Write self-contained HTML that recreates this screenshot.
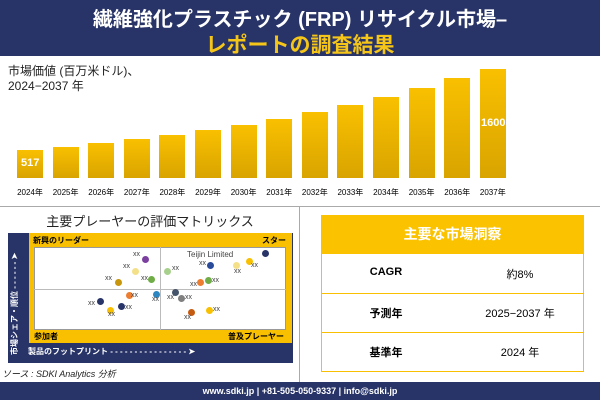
<!DOCTYPE html><html><head><meta charset="utf-8"><style>
*{margin:0;padding:0;box-sizing:border-box}
body{width:600px;height:400px;position:relative;background:#fff;font-family:"Liberation Sans","Noto Sans CJK JP",sans-serif;overflow:hidden}
.a{position:absolute}
.bar{position:absolute;width:26px;bottom:222px;background:linear-gradient(#f9c000,#d9a400)}
.yr{position:absolute;top:187px;font-size:8px;width:36px;text-align:center}
.d{position:absolute;width:7px;height:7px;border-radius:50%}
.x{position:absolute;font-size:7px;color:#444}
</style></head><body>
<div class="a" style="left:0;top:0;width:600px;height:56px;background:#283468"></div>
<div class="a" style="left:0;top:3px;width:600px;text-align:center;color:#fff;font-size:20px;font-weight:bold">繊維強化プラスチック (FRP) リサイクル市場–</div>
<div class="a" style="left:0;top:29px;width:600px;text-align:center;color:#f5c518;font-size:21px;font-weight:bold">レポートの調査結果</div>
<div class="a" style="left:8px;top:64px;font-size:12px;line-height:15px;color:#222">市場価値 (百万米ドル)、<br>2024−2037 年</div>
<div id="bars"></div>
<script>
var t=[150,147,143,139,135,130,125,119,112,105,97,88,78,69];var h='';
for(var i=0;i<14;i++){var x=17+i*35.6;h+='<div class="bar" style="left:'+x+'px;top:'+t[i]+'px"></div><div class="yr" style="left:'+(x-5)+'px">'+(2024+i)+'年</div>';}
document.getElementById('bars').innerHTML=h;
</script>
<div class="a" style="left:21px;top:157px;color:#fff;font-size:11px;font-weight:bold">517</div>
<div class="a" style="left:481px;top:117px;color:#fff;font-size:11px;font-weight:bold">1600</div>
<div class="a" style="left:0;top:206px;width:600px;border-top:1px solid #aaa"></div>
<div class="a" style="left:299px;top:206px;height:176px;border-left:1px solid #aaa"></div>
<div class="a" style="left:0;top:211px;width:300px;text-align:center;font-size:13px;color:#222">主要プレーヤーの評価マトリックス</div>
<div class="a" style="left:8px;top:233px;width:285px;height:130px;background:#283468"></div>
<div class="a" style="left:29px;top:233px;width:263px;height:110px;background:#f8c000"></div>
<div class="a" style="left:34px;top:247px;width:252px;height:83px;background:#fff;border:1px solid #999"></div>
<div class="a" style="left:160px;top:247px;height:83px;border-left:1px solid #bbb"></div>
<div class="a" style="left:34px;top:289px;width:252px;border-top:1px solid #bbb"></div>
<div class="a" style="left:33px;top:235px;font-size:8px;font-weight:bold">新興のリーダー</div>
<div class="a" style="left:262px;top:235px;font-size:8px;font-weight:bold">スター</div>
<div class="a" style="left:34px;top:331px;font-size:8px;font-weight:bold">参加者</div>
<div class="a" style="left:228px;top:331px;font-size:8px;font-weight:bold">普及プレーヤー</div>
<div class="a" style="left:28px;top:346px;font-size:8px;color:#fff;font-weight:bold">製品のフットプリント - - - - - - - - - - - - - - - - ➤</div>
<div class="a" style="left:9px;top:355px;font-size:8px;color:#fff;transform:rotate(-90deg);transform-origin:left top;white-space:nowrap;font-weight:bold">市場シェア・順位 - - - - - - ➤</div>
<div class="a" style="left:187px;top:250px;font-size:8px;color:#444">Teijin Limited</div>
<div class="d" style="left:262px;top:250px;background:#283468"></div><div class="d" style="left:246px;top:258px;background:#f8c000"></div>
<div class="d" style="left:233px;top:262px;background:#f5e08a"></div><div class="d" style="left:207px;top:262px;background:#2a4a9a"></div>
<div class="d" style="left:142px;top:256px;background:#7b3fa0"></div><div class="d" style="left:132px;top:268px;background:#f5e08a"></div>
<div class="d" style="left:164px;top:268px;background:#a7d08c"></div><div class="d" style="left:148px;top:276px;background:#70ad47"></div>
<div class="d" style="left:115px;top:279px;background:#c8960c"></div>
<div class="d" style="left:197px;top:279px;background:#ed7d31"></div>
<div class="d" style="left:205px;top:277px;background:#70ad47"></div>
<div class="d" style="left:126px;top:292px;background:#ed7d31"></div><div class="d" style="left:153px;top:291px;background:#2e86c1"></div>
<div class="d" style="left:172px;top:289px;background:#44546a"></div><div class="d" style="left:178px;top:295px;background:#7f7f7f"></div>
<div class="d" style="left:97px;top:298px;background:#283468"></div><div class="d" style="left:118px;top:303px;background:#283468"></div>
<div class="d" style="left:107px;top:307px;background:#f8c000"></div><div class="d" style="left:188px;top:309px;background:#c55a11"></div>
<div class="d" style="left:206px;top:307px;background:#f8c000"></div>
<div class="x" style="left:133px;top:251px">xx</div><div class="x" style="left:123px;top:263px">xx</div><div class="x" style="left:105px;top:275px">xx</div>
<div class="x" style="left:141px;top:275px">xx</div><div class="x" style="left:172px;top:265px">xx</div><div class="x" style="left:199px;top:260px">xx</div>
<div class="x" style="left:234px;top:268px">xx</div><div class="x" style="left:251px;top:262px">xx</div><div class="x" style="left:190px;top:281px">xx</div>
<div class="x" style="left:212px;top:277px">xx</div><div class="x" style="left:131px;top:292px">xx</div><div class="x" style="left:152px;top:296px">xx</div>
<div class="x" style="left:167px;top:294px">xx</div><div class="x" style="left:185px;top:294px">xx</div><div class="x" style="left:88px;top:300px">xx</div>
<div class="x" style="left:125px;top:304px">xx</div><div class="x" style="left:108px;top:311px">xx</div><div class="x" style="left:213px;top:306px">xx</div>
<div class="x" style="left:184px;top:314px">xx</div>
<div class="a" style="left:2px;top:367px;font-size:9px;font-style:italic;color:#222">ソース : SDKI Analytics 分析</div>
<div class="a" style="left:321px;top:215px;width:263px;height:157px;border:1px solid #f8c000"></div>
<div class="a" style="left:321px;top:215px;width:263px;height:39px;background:#fbc200;color:#fff;font-size:14px;font-weight:bold;text-align:center;line-height:39px">主要な市場洞察</div>
<div class="a" style="left:321px;top:293px;width:263px;border-top:1px solid #f8c000"></div>
<div class="a" style="left:321px;top:332px;width:263px;border-top:1px solid #f8c000"></div>
<div class="a" style="left:321px;top:266px;width:130px;text-align:center;font-size:11px;font-weight:bold">CAGR</div>
<div class="a" style="left:455px;top:266px;width:130px;text-align:center;font-size:11px">約8%</div>
<div class="a" style="left:321px;top:305px;width:130px;text-align:center;font-size:11px;font-weight:bold">予測年</div>
<div class="a" style="left:455px;top:305px;width:130px;text-align:center;font-size:11px">2025−2037 年</div>
<div class="a" style="left:321px;top:344px;width:130px;text-align:center;font-size:11px;font-weight:bold">基準年</div>
<div class="a" style="left:455px;top:344px;width:130px;text-align:center;font-size:11px">2024 年</div>
<div class="a" style="left:0;top:382px;width:600px;height:18px;background:#283468;color:#fff;font-size:9px;font-weight:bold;text-align:center;line-height:18px">www.sdki.jp | +81-505-050-9337 | info@sdki.jp</div>
</body></html>
